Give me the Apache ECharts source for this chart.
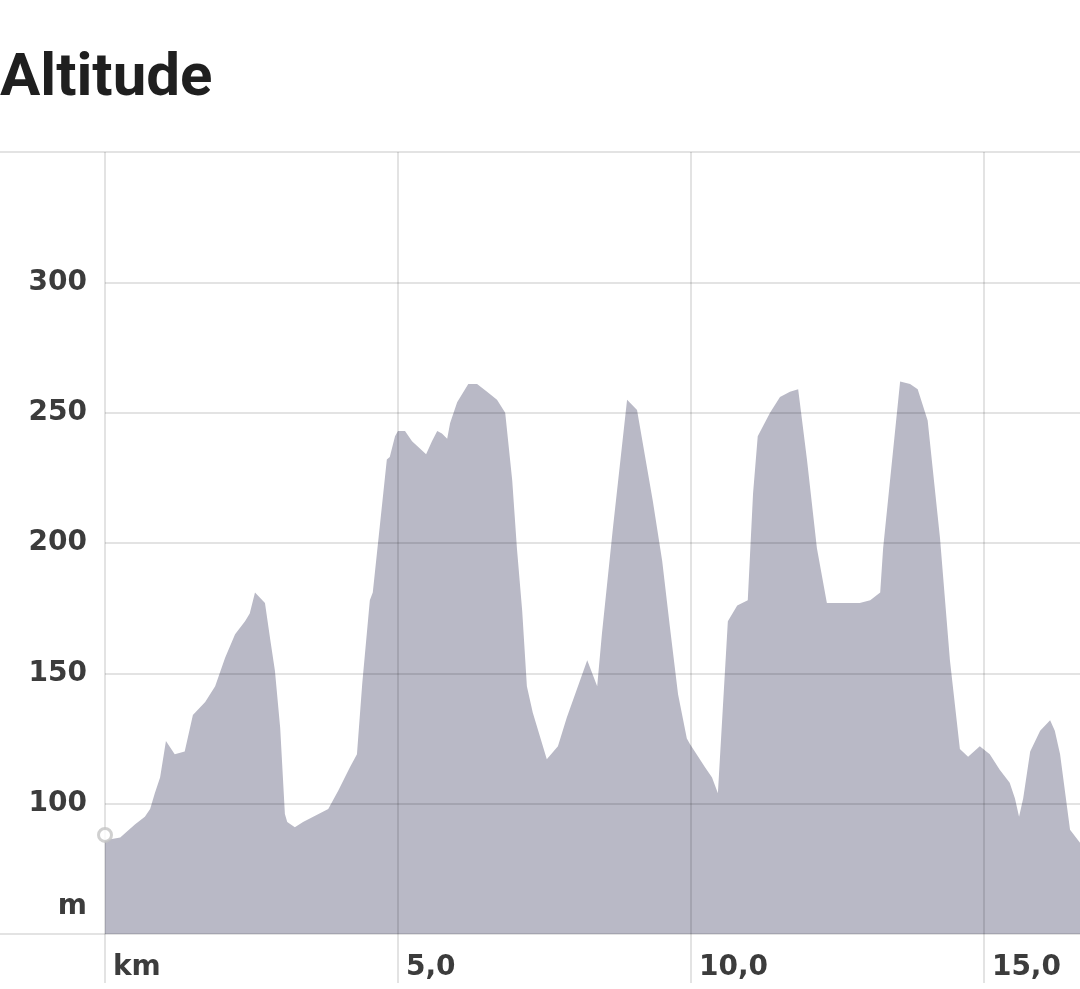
<!DOCTYPE html>
<html>
<head>
<meta charset="utf-8">
<script src="https://cdn.jsdelivr.net/npm/echarts@6/dist/echarts.min.js"></script>
<style>
html,body{margin:0;padding:0;background:#fff;}
#chart{width:1080px;height:989px;}
</style>
</head>
<body>
<div id="chart"></div>
<script>
// Distance along the route (km)
const distanceKm = [0.00,0.26,0.51,0.68,0.77,0.85,0.94,1.04,1.19,1.36,1.50,1.71,1.88,2.05,2.22,2.39,2.47,2.56,2.73,2.82,2.90,2.99,3.07,3.11,3.24,3.38,3.81,3.98,4.18,4.30,4.39,4.52,4.57,4.81,4.86,4.95,5.00,5.12,5.24,5.48,5.58,5.67,5.75,5.84,5.89,6.01,6.20,6.35,6.52,6.69,6.83,6.95,7.03,7.12,7.20,7.30,7.54,7.73,7.88,8.23,8.40,8.48,8.67,8.91,9.08,9.25,9.35,9.51,9.64,9.78,9.93,9.98,10.24,10.36,10.46,10.63,10.79,10.97,11.06,11.14,11.35,11.52,11.69,11.83,11.98,12.15,12.32,12.54,12.88,13.06,13.23,13.28,13.57,13.74,13.87,14.04,14.25,14.42,14.59,14.73,14.93,15.10,15.27,15.44,15.53,15.60,15.67,15.79,15.96,16.13,16.21,16.30,16.47,16.64];
// Altitude (m)
const altitudeM = [86,87,92,95,98,104,110,124,119,120,134,139,145,156,165,170,173,181,177,163,151,129,96,93,91,93,98,105,114,119,146,178,181,232,233,241,243,243,239,234,239,243,242,240,246,254,261,261,258,255,250,224,198,174,145,135,117,122,133,155,145,165,206,255,251,229,216,193,168,142,125,123,114,110,104,170,176,178,219,241,250,256,258,259,232,198,177,177,177,178,181,198,262,261,259,247,202,155,121,118,122,119,113,108,102,95,102,120,128,132,128,119,90,85];
// Start marker
const startMarker = [0, 88];
// Axis ticks
const yTicks = [50, 100, 150, 200, 250, 300, 350];
const xTicks = [0, 5, 10, 15];
const xVisibleMax = 16.64;

const chart = echarts.init(document.getElementById('chart'), null, {renderer: 'canvas'});
const profile = distanceKm.map((d, i) => [d, altitudeM[i]]);
const gridColor = 'rgba(0,0,0,0.11)';
const labelFont = {fontFamily: 'DejaVu Sans', fontWeight: 'bold', fontSize: 28, color: '#3c3c3c'};

chart.setOption({
  animation: false,
  backgroundColor: '#ffffff',
  title: {
    text: 'Altitude',
    left: -5,
    top: 45,
    textStyle: {fontFamily: 'Roboto', fontWeight: 'bold', fontSize: 60, color: '#1f1f1f'}
  },
  grid: [
    {left: 105, top: 152, right: 0, height: 782, containLabel: false},
    {left: 0, right: 0, top: 152, height: 782, containLabel: false}
  ],
  xAxis: [
    {
      type: 'value', gridIndex: 0, min: 0, max: xVisibleMax, interval: 5, z: 5,
      axisLine: {show: false},
      axisTick: {show: true, customValues: xTicks, length: 49, lineStyle: {color: gridColor, width: 2}},
      splitLine: {show: true, lineStyle: {color: gridColor, width: 2}},
      axisLabel: {
        ...labelFont, align: 'left', margin: 20, padding: [0, 0, 0, 8],
        customValues: xTicks,
        formatter: v => v === 0 ? 'km' : v.toFixed(1).replace('.', ',')
      }
    },
    {type: 'value', gridIndex: 1, min: 0, max: 1, show: false}
  ],
  yAxis: [
    {
      type: 'value', gridIndex: 0, min: 50, max: 350, interval: 50, z: 5,
      axisLine: {show: false}, axisTick: {show: false},
      splitLine: {show: true, showMinLine: false, showMaxLine: false, lineStyle: {color: gridColor, width: 2}},
      axisLabel: {
        ...labelFont, margin: 18, showMaxLabel: false,
        formatter: v => v === 50 ? '{m|m}' : (v === 350 ? '' : String(v)),
        rich: {m: {...labelFont, padding: [0, 0, 54, 0]}}
      }
    },
    {
      type: 'value', gridIndex: 1, min: 0, max: 1, interval: 1, z: 5,
      axisLine: {show: false}, axisTick: {show: false}, axisLabel: {show: false},
      splitLine: {show: true, lineStyle: {color: gridColor, width: 2}}
    }
  ],
  series: [
    {
      type: 'line', xAxisIndex: 0, yAxisIndex: 0, data: profile,
      symbol: 'none', smooth: false, z: 2,
      lineStyle: {width: 0, color: '#b9b9c6'},
      areaStyle: {color: '#b9b9c6', opacity: 1, origin: 'start'}
    },
    {
      type: 'scatter', xAxisIndex: 0, yAxisIndex: 0, data: [startMarker],
      symbol: 'circle', symbolSize: 13, z: 6,
      itemStyle: {color: '#ffffff', borderColor: '#c4c4c4', borderWidth: 3}
    }
  ]
});
</script>
</body>
</html>
